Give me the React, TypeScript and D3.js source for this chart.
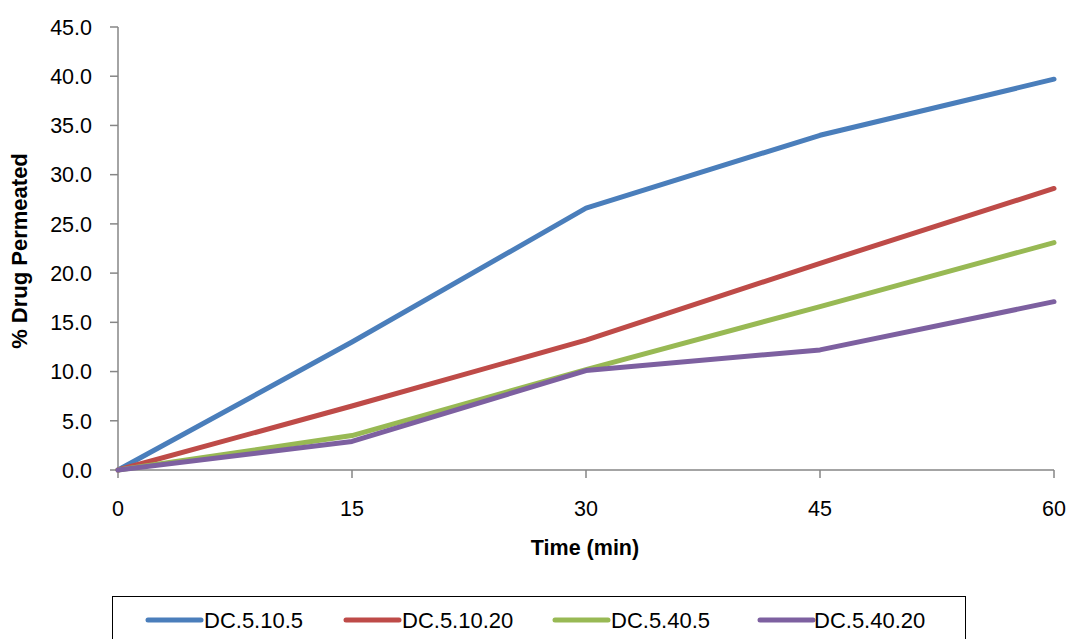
import React from "react";
import * as d3 from "d3";

// Sampling times (min)
const times = [0, 15, 30, 45, 60];

// Cumulative % drug permeated per formulation
const seriesNames = ["DC.5.10.5", "DC.5.10.20", "DC.5.40.5", "DC.5.40.20"];
const dc_5_10_5 = [0, 13.0, 26.6, 34.0, 39.7];
const dc_5_10_20 = [0, 6.5, 13.2, 21.0, 28.6];
const dc_5_40_5 = [0, 3.5, 10.2, 16.6, 23.1];
const dc_5_40_20 = [0, 2.9, 10.1, 12.2, 17.1];
const seriesValues = [dc_5_10_5, dc_5_10_20, dc_5_40_5, dc_5_40_20];
const seriesColors = ["#4A7EBB", "#BE4B48", "#98B954", "#7D60A0"];

const yTicks = [0, 5, 10, 15, 20, 25, 30, 35, 40, 45];
const xTicks = [0, 15, 30, 45, 60];

const W = 1070;
const H = 639;
const plot = { left: 118, right: 1054, top: 27, bottom: 470 };
const FONT = "'Liberation Sans', Arial, sans-serif";
const AXIS = "#868686";

export default function App() {
  const x = d3.scaleLinear().domain([0, 60]).range([plot.left, plot.right]);
  const y = d3.scaleLinear().domain([0, 45]).range([plot.bottom, plot.top]);
  const line = d3
    .line<number>()
    .x((_, i) => x(times[i]))
    .y((d) => y(d));

  const legendItems = [
    { lx: 148, tx: 204 },
    { lx: 346, tx: 402 },
    { lx: 555, tx: 611 },
    { lx: 760, tx: 814 },
  ];

  return (
    <svg
      width={W}
      height={H}
      style={{ position: "absolute", left: 0, top: 0, background: "#fff" }}
      fontFamily={FONT}
    >
      {/* y axis */}
      <line x1={plot.left} x2={plot.left} y1={plot.top} y2={plot.bottom} stroke={AXIS} strokeWidth={1.5} />
      {yTicks.map((t) => (
        <g key={"y" + t}>
          <line x1={plot.left - 8} x2={plot.left} y1={y(t)} y2={y(t)} stroke={AXIS} strokeWidth={1.5} />
          <text x={plot.left - 26} y={y(t)} dy="0.36em" textAnchor="end" fontSize={21.5} fill="#000">
            {t.toFixed(1)}
          </text>
        </g>
      ))}
      {/* x axis */}
      <line x1={plot.left} x2={plot.right} y1={plot.bottom} y2={plot.bottom} stroke={AXIS} strokeWidth={1.5} />
      {xTicks.map((t) => (
        <g key={"x" + t}>
          <line x1={x(t)} x2={x(t)} y1={plot.bottom} y2={plot.bottom + 8} stroke={AXIS} strokeWidth={1.5} />
          <text x={x(t)} y={516} textAnchor="middle" fontSize={21.5} fill="#000">
            {t}
          </text>
        </g>
      ))}

      {/* axis titles */}
      <text x={585} y={555} textAnchor="middle" fontSize={21.5} fontWeight="bold" fill="#000">
        Time (min)
      </text>
      <text
        transform="translate(27,251) rotate(-90)"
        textAnchor="middle"
        fontSize={22}
        fontWeight="bold"
        fill="#000"
      >
        % Drug Permeated
      </text>

      {/* series */}
      {seriesValues.map((vals, i) => (
        <path
          key={seriesNames[i]}
          d={line(vals) ?? ""}
          fill="none"
          stroke={seriesColors[i]}
          strokeWidth={5}
          strokeLinejoin="round"
          strokeLinecap="round"
        />
      ))}

      {/* legend */}
      <rect x={112.5} y={596.5} width={853} height={60} fill="#fff" stroke="#000" strokeWidth={1} />
      {seriesNames.map((name, i) => (
        <g key={"lg" + name}>
          <line
            x1={legendItems[i].lx}
            x2={legendItems[i].lx + 53}
            y1={620}
            y2={620}
            stroke={seriesColors[i]}
            strokeWidth={5}
            strokeLinecap="round"
          />
          <text x={legendItems[i].tx} y={620} dy="0.36em" fontSize={22} fill="#000">
            {name}
          </text>
        </g>
      ))}
    </svg>
  );
}
